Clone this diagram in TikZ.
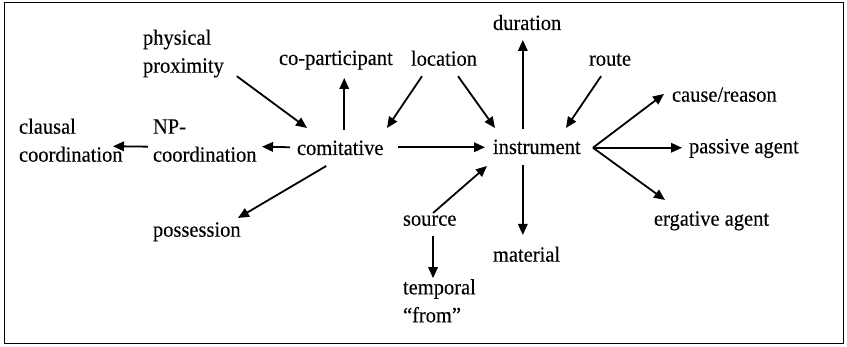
\documentclass[tikz,border=0pt]{standalone}
\usepackage{fontspec}
\setmainfont{Liberation Serif}[FakeStretch=0.94,FakeBold=0.2]
\usetikzlibrary{arrows.meta}
\begin{document}
\begin{tikzpicture}[x=1pt,y=-1pt,
  lbl/.style={inner sep=0pt, outer sep=0pt, anchor=base west, font=\fontsize{21.8}{28}\selectfont},
  one/.style={lbl, text height=14pt, text depth=4.5pt},
  two/.style={lbl, align=left},
  arr/.style={line width=1.8pt, -{Triangle[length=11pt,width=9.5pt]}},
  frame/.style={line width=1pt}]
\useasboundingbox (0,0) rectangle (847,347);
\draw[frame] (4,3) rectangle (843,344);
% nodes
\node[two] (phys) at (143,72.7) {physical\\proximity};
\node[one] (copart) at (279,65) {co-participant};
\node[one] (loc) at (411,65.7) {location};
\node[one] (dur) at (493,30) {duration};
\node[one] (route) at (589,65.7) {route};
\node[one] (cause) at (672,101.7) {cause/reason};
\node[one] (pass) at (689,153.3) {passive agent};
\node[one] (erg) at (654,225.7) {ergative agent};
\node[one] (inst) at (493,154) {instrument};
\node[one] (comit) at (297,155) {comitative};
\node[two] (np) at (153,161.7) {NP-\\coordination};
\node[two] (claus) at (19,161.7) {clausal\\coordination};
\node[one] (poss) at (153,236.7) {possession};
\node[one] (src) at (403,225.7) {source};
\node[one] (mat) at (493,261.7) {material};
\node[two] (temp) at (403,322.3) {temporal\\“from”};
% connectors
\draw[arr] ([shift={(13,-1.2)}]phys.south east) -- ([shift={(10,-13)}]comit.north west);
\draw[arr] ([shift={(4,-11)}]comit.north) coordinate (cp0) -- ([shift={(0,8.5)}]cp0 |- copart.south);
\draw[arr] ([shift={(-22,6)}]loc.south) -- ([shift={(3.5,-13)}]comit.north east);
\draw[arr] ([shift={(14,6)}]loc.south) -- ([shift={(2,-12)}]inst.north west);
\draw[arr] ([shift={(14.5,-3)}]comit.east) -- ([shift={(-8,-2)}]inst.west);
\draw[arr] ([shift={(-7,-3)}]comit.west) -- ([shift={(5.4,6)}]np.east);
\draw[arr] ([shift={(-5,6)}]np.west) -- ([shift={(-9.6,6)}]claus.east);
\draw[arr] ([shift={(-14,6.5)}]comit.south) -- ([shift={(-2.7,-4.7)}]poss.north east);
\draw[arr] ([shift={(-14,-11)}]inst.north) coordinate (du0) -- ([shift={(0,5.5)}]du0 |- dur.south);
\draw[arr] ([shift={(-9,6)}]route.south) -- ([shift={(-14.7,-12)}]inst.north east);
\coordinate (fan) at ([shift={(12.3,-1.5)}]inst.east);
\draw[arr] (fan) -- ([shift={(-8,-3)}]cause.west);
\draw[arr] (fan) -- ([shift={(-7,0)}]fan -| pass.west);
\draw[arr] (fan) -- ([shift={(11,-11.7)}]erg.north west);
\draw[arr] ([shift={(-14,6.5)}]inst.south) coordinate (ma0) -- ([shift={(0,-12.7)}]ma0 |- mat.north);
\draw[arr] ([shift={(3.3,1.3)}]src.north) -- ([shift={(-6,7.5)}]inst.south west);
\draw[arr] ([shift={(3.3,5.8)}]src.south) coordinate (so0) -- ([shift={(0,-1)}]so0 |- temp.north);
\end{tikzpicture}
\end{document}
